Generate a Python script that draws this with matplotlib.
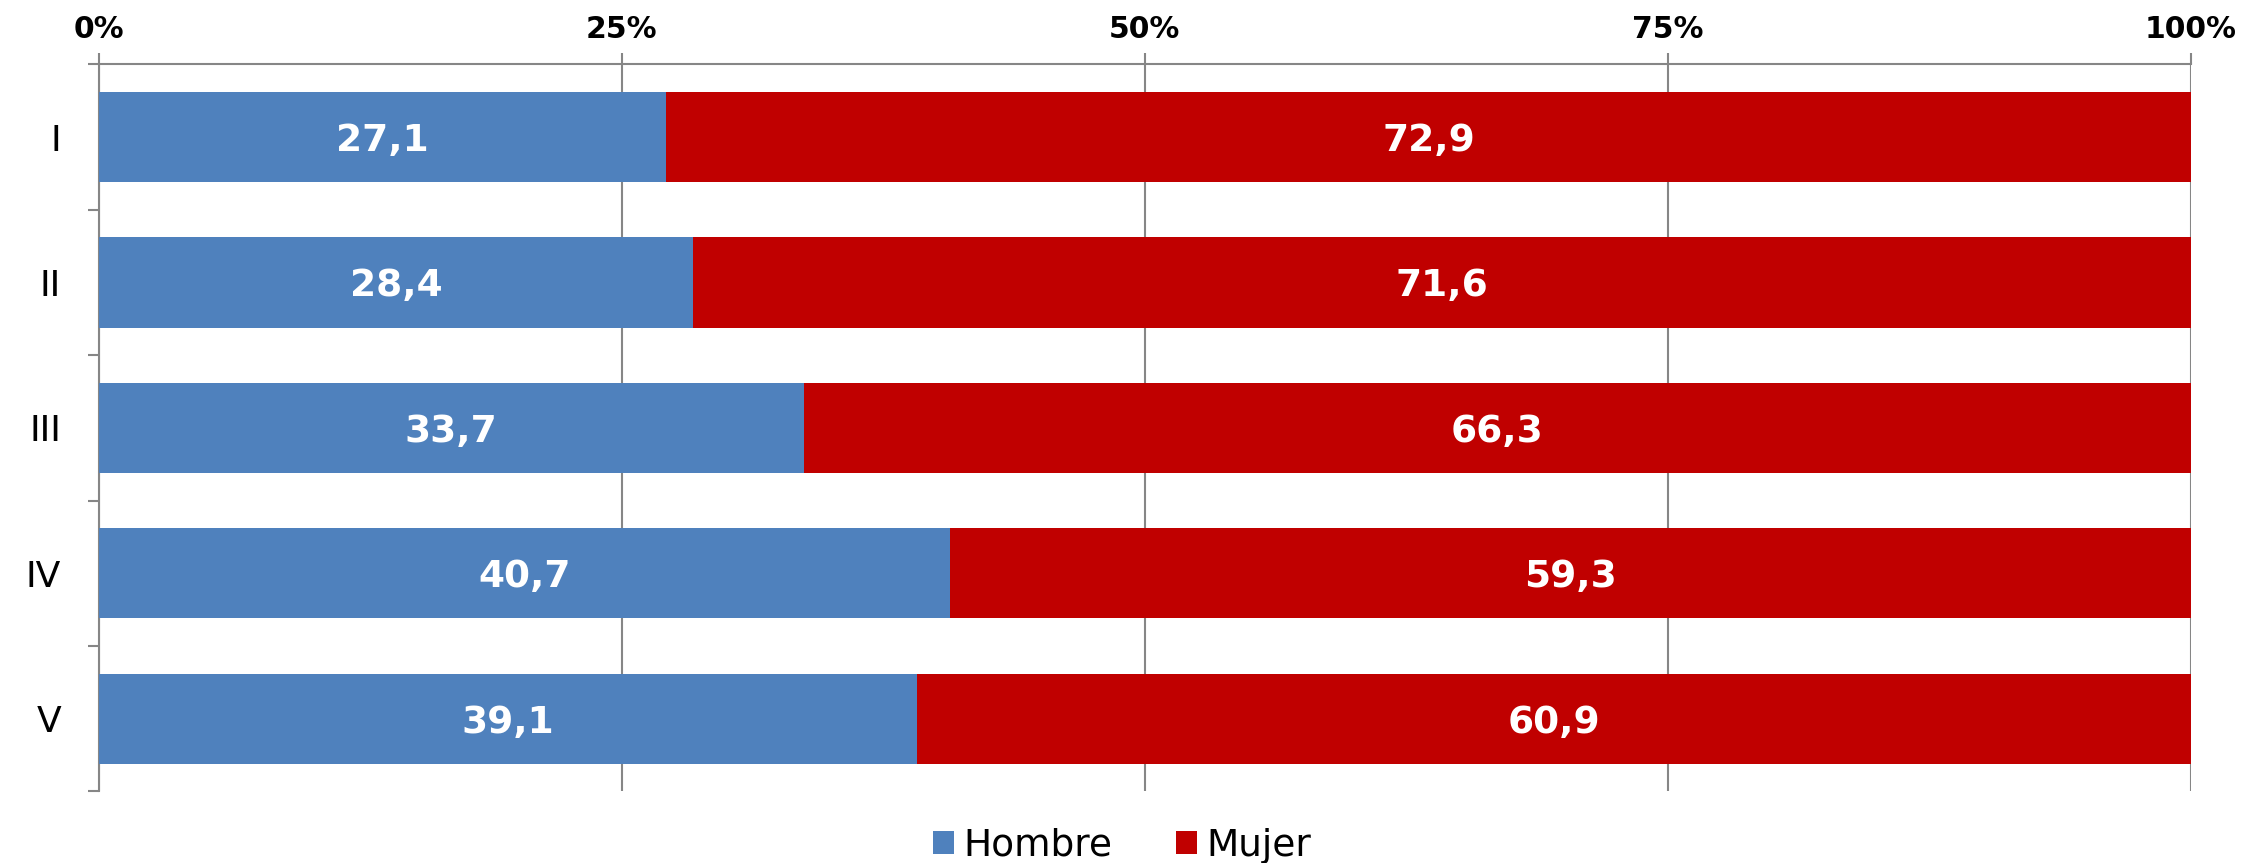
import matplotlib
matplotlib.use("Agg")
import matplotlib.pyplot as plt
from matplotlib.patches import Patch
from matplotlib.ticker import FixedLocator, PercentFormatter

categories = ["I", "II", "III", "IV", "V"]
hombre = [27.1, 28.4, 33.7, 40.7, 39.1]
mujer = [72.9, 71.6, 66.3, 59.3, 60.9]
series_names = ["Hombre", "Mujer"]
colors = ["#4F81BD", "#C00000"]
x_ticks = [0, 25, 50, 75, 100]

plt.rcParams['font.family'] = ['DejaVu Sans']
fig = plt.figure(figsize=(22.44, 8.63), dpi=100)
ax = fig.add_axes([0.044, 0.083, 0.9324, 0.8424])

grid_c = "#868686"
ypos = list(range(len(categories)))
ax.barh(ypos, hombre, height=0.62, color=colors[0], zorder=3)
ax.barh(ypos, mujer, left=hombre, height=0.62, color=colors[1], zorder=3)

for i in ypos:
    ax.text(hombre[i] / 2, i, f"{hombre[i]:.1f}".replace('.', ','), ha='center', va='center_baseline',
            color='white', fontsize=27, fontweight='bold', zorder=4)
    ax.text(hombre[i] + mujer[i] / 2, i, f"{mujer[i]:.1f}".replace('.', ','), ha='center',
            va='center_baseline', color='white', fontsize=27, fontweight='bold', zorder=4)

ax.set_xlim(0, 100)
ax.set_ylim(len(categories) - 0.5, -0.5)

ax.xaxis.set_major_locator(FixedLocator(x_ticks))
ax.xaxis.set_major_formatter(PercentFormatter(decimals=0))
ax.xaxis.tick_top()
ax.tick_params(axis='x', which='major', direction='out', length=8, width=1.5, color=grid_c,
               labelsize=21.5, pad=7)
for lab in ax.get_xticklabels():
    lab.set_fontweight('bold')
ax.grid(axis='x', color=grid_c, linewidth=1.5, zorder=0)

ax.set_yticks(ypos)
ax.set_yticklabels(categories, fontsize=26)
ax.tick_params(axis='y', which='major', length=0, pad=27)
ax.set_yticks([y - 0.5 for y in range(len(categories) + 1)], minor=True)
ax.tick_params(axis='y', which='minor', direction='out', length=8, width=1.5, color=grid_c)

for s in ['right', 'bottom']:
    ax.spines[s].set_visible(False)
for s in ['left', 'top']:
    ax.spines[s].set_color(grid_c)
    ax.spines[s].set_linewidth(1.5)
ax.set_axisbelow(True)

handles = [Patch(facecolor=c, edgecolor='none') for c in colors]
fig.legend(handles, series_names, loc='center', bbox_to_anchor=(0.5, 0.02), ncol=2,
           frameon=False, fontsize=27, handlelength=0.55, handleheight=0.55,
           handletextpad=0.25, columnspacing=1.7)

fig.savefig("out.png", dpi=100)
